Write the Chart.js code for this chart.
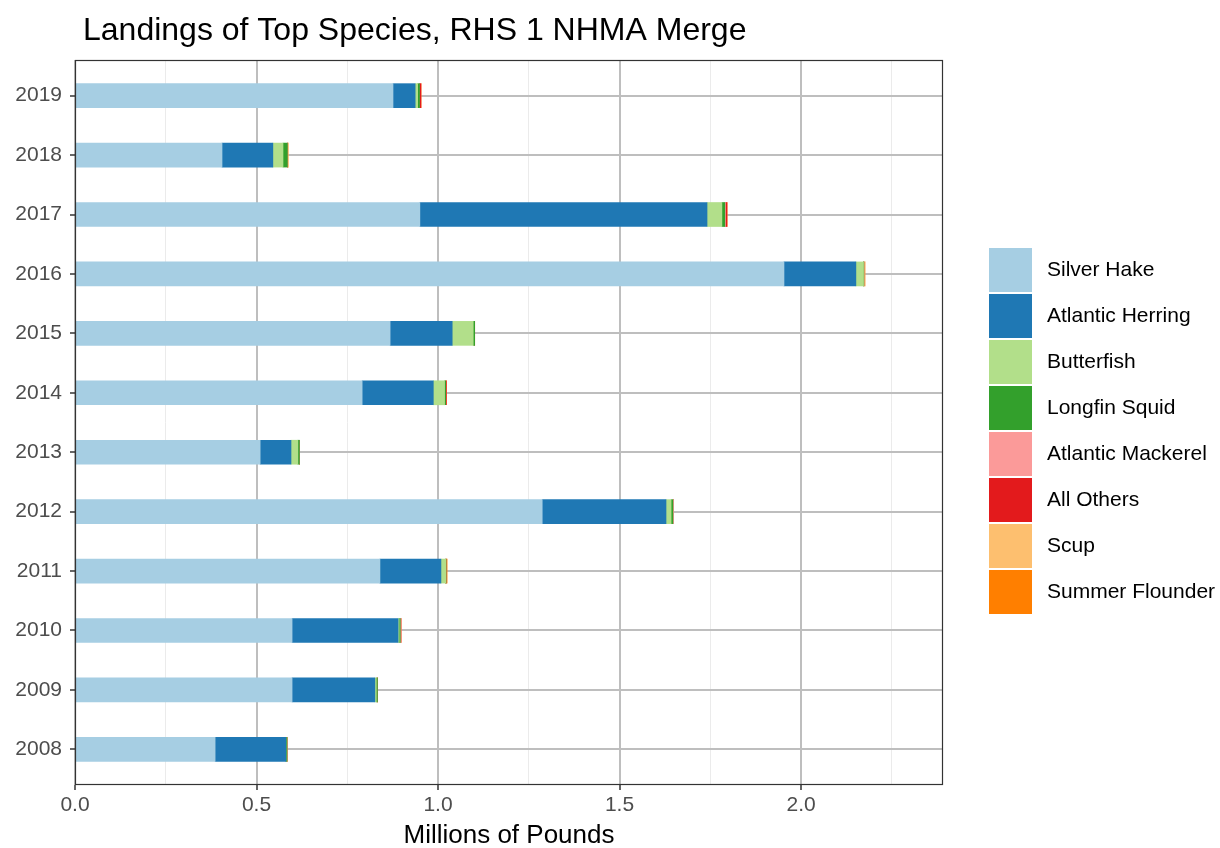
<!DOCTYPE html>
<html>
<head>
<meta charset="utf-8">
<script src="https://cdn.jsdelivr.net/npm/chart.js@4"></script>
<style>
  html, body { margin: 0; padding: 0; background: #fff; }
  #wrap { width: 1220px; height: 848px; position: relative; }
</style>
</head>
<body>
<div id="wrap"><canvas id="landingsChart"></canvas></div>
<script>
// ============================
// Data (millions of pounds), 2008 -> 2019
// ============================
const years = [2008, 2009, 2010, 2011, 2012, 2013, 2014, 2015, 2016, 2017, 2018, 2019];

const species = ["Silver Hake", "Atlantic Herring", "Butterfish", "Longfin Squid",
                 "Atlantic Mackerel", "All Others", "Scup", "Summer Flounder"];
const speciesColors = ["#A6CEE3", "#1F78B4", "#B2DF8A", "#33A02C",
                       "#FB9A99", "#E31A1C", "#FDBF6F", "#FF7F00"];

const silverHake      = [0.386, 0.598, 0.598, 0.840, 1.287, 0.510, 0.791, 0.868, 1.953, 0.950, 0.405, 0.876];
const atlanticHerring = [0.195, 0.228, 0.292, 0.168, 0.341, 0.085, 0.196, 0.171, 0.198, 0.791, 0.140, 0.061];
const butterfish      = [0.000, 0.004, 0.003, 0.013, 0.014, 0.019, 0.031, 0.058, 0.021, 0.041, 0.028, 0.007];
const longfinSquid    = [0.003, 0.003, 0.003, 0.001, 0.005, 0.004, 0.003, 0.004, 0.001, 0.008, 0.012, 0.005];
const atlMackerel     = [0.000, 0.000, 0.002, 0.000, 0.002, 0.000, 0.000, 0.000, 0.000, 0.002, 0.000, 0.000];
const allOthers       = [0.000, 0.000, 0.000, 0.000, 0.000, 0.000, 0.002, 0.000, 0.000, 0.004, 0.000, 0.004];
const scup            = [0.000, 0.000, 0.000, 0.000, 0.000, 0.000, 0.000, 0.000, 0.003, 0.000, 0.002, 0.000];
const summerFlounder  = [0.000, 0.000, 0.000, 0.003, 0.000, 0.000, 0.000, 0.000, 0.000, 0.000, 0.000, 0.000];

const seriesValues = [silverHake, atlanticHerring, butterfish, longfinSquid,
                      atlMackerel, allOthers, scup, summerFlounder];

const xTicks = [0, 0.25, 0.5, 0.75, 1.0, 1.25, 1.5, 1.75, 2.0, 2.25];

const FONT = "'Liberation Sans', Arial, Helvetica, sans-serif";
const isMajor = v => Math.abs(v * 2 - Math.round(v * 2)) < 1e-6;

// ============================
// Panel border, title, axis title, legend
// ============================
const decorations = {
  id: "decorations",
  afterDraw(chart) {
    const { ctx, chartArea: a } = chart;
    ctx.save();

    // panel border
    ctx.strokeStyle = "#333333";
    ctx.lineWidth = 1.2;
    ctx.strokeRect(a.left + 0.5, a.top + 0.5, a.right - a.left - 1, a.bottom - a.top - 1);

    // title
    ctx.fillStyle = "#000";
    ctx.font = `32px ${FONT}`;
    ctx.textAlign = "left";
    ctx.textBaseline = "middle";
    ctx.fillText("Landings of Top Species, RHS 1 NHMA Merge", 83, 31);

    // x axis title
    ctx.font = `26px ${FONT}`;
    ctx.textAlign = "center";
    ctx.fillText("Millions of Pounds", (a.left + a.right) / 2, 836);

    // legend
    ctx.font = `21px ${FONT}`;
    ctx.textAlign = "left";
    chart.data.datasets.forEach((ds, i) => {
      const top = 247 + i * 46;
      ctx.fillStyle = ds.backgroundColor;
      ctx.fillRect(989, top + 1, 43, 44);
      ctx.fillStyle = "#000";
      ctx.fillText(ds.label, 1047, top + 23);
    });

    ctx.restore();
  }
};

// ============================
// Chart
// ============================
const ctx = document.getElementById("landingsChart").getContext("2d");

new Chart(ctx, {
  type: "bar",
  data: {
    datasets: species.map((name, s) => ({
      label: name,
      data: seriesValues[s].map((v, i) => ({ x: v, y: i })),
      backgroundColor: speciesColors[s],
      borderWidth: 0,
      barThickness: 24
    }))
  },
  options: {
    indexAxis: "y",
    responsive: true,
    maintainAspectRatio: false,
    animation: false,
    layout: { padding: { top: 60, right: 277, bottom: 0, left: 0 } },
    plugins: {
      legend: { display: false },
      tooltip: { enabled: false }
    },
    scales: {
      x: {
        type: "linear",
        stacked: true,
        min: 0,
        max: 2.391,
        afterBuildTicks: scale => { scale.ticks = xTicks.map(v => ({ value: v })); },
        afterFit: scale => { scale.height = 63; },
        border: { display: false },
        grid: {
          color: c => isMajor(c.tick.value) ? "#bebebe" : "#ebebeb",
          lineWidth: c => isMajor(c.tick.value) ? 2 : 1,
          tickColor: c => isMajor(c.tick.value) ? "#333333" : "rgba(0,0,0,0)",
          tickLength: 5,
          tickWidth: 1.5
        },
        ticks: {
          autoSkip: false,
          maxRotation: 0,
          padding: 3,
          color: "#4d4d4d",
          font: { family: FONT, size: 21 },
          callback: v => isMajor(v) ? v.toFixed(1) : ""
        }
      },
      y: {
        type: "linear",
        stacked: true,
        offset: false,
        min: -0.6,
        max: 11.6,
        afterBuildTicks: scale => { scale.ticks = years.map((_, i) => ({ value: i })); },
        afterFit: scale => { scale.width = 75; },
        border: { display: false },
        grid: {
          offset: false,
          color: "#bebebe",
          lineWidth: 2,
          tickColor: "#333333",
          tickLength: 5,
          tickWidth: 1.5
        },
        ticks: {
          autoSkip: false,
          padding: 8,
          color: "#4d4d4d",
          font: { family: FONT, size: 21 },
          callback: v => years[v]
        }
      }
    }
  },
  plugins: [decorations]
});
</script>
</body>
</html>
